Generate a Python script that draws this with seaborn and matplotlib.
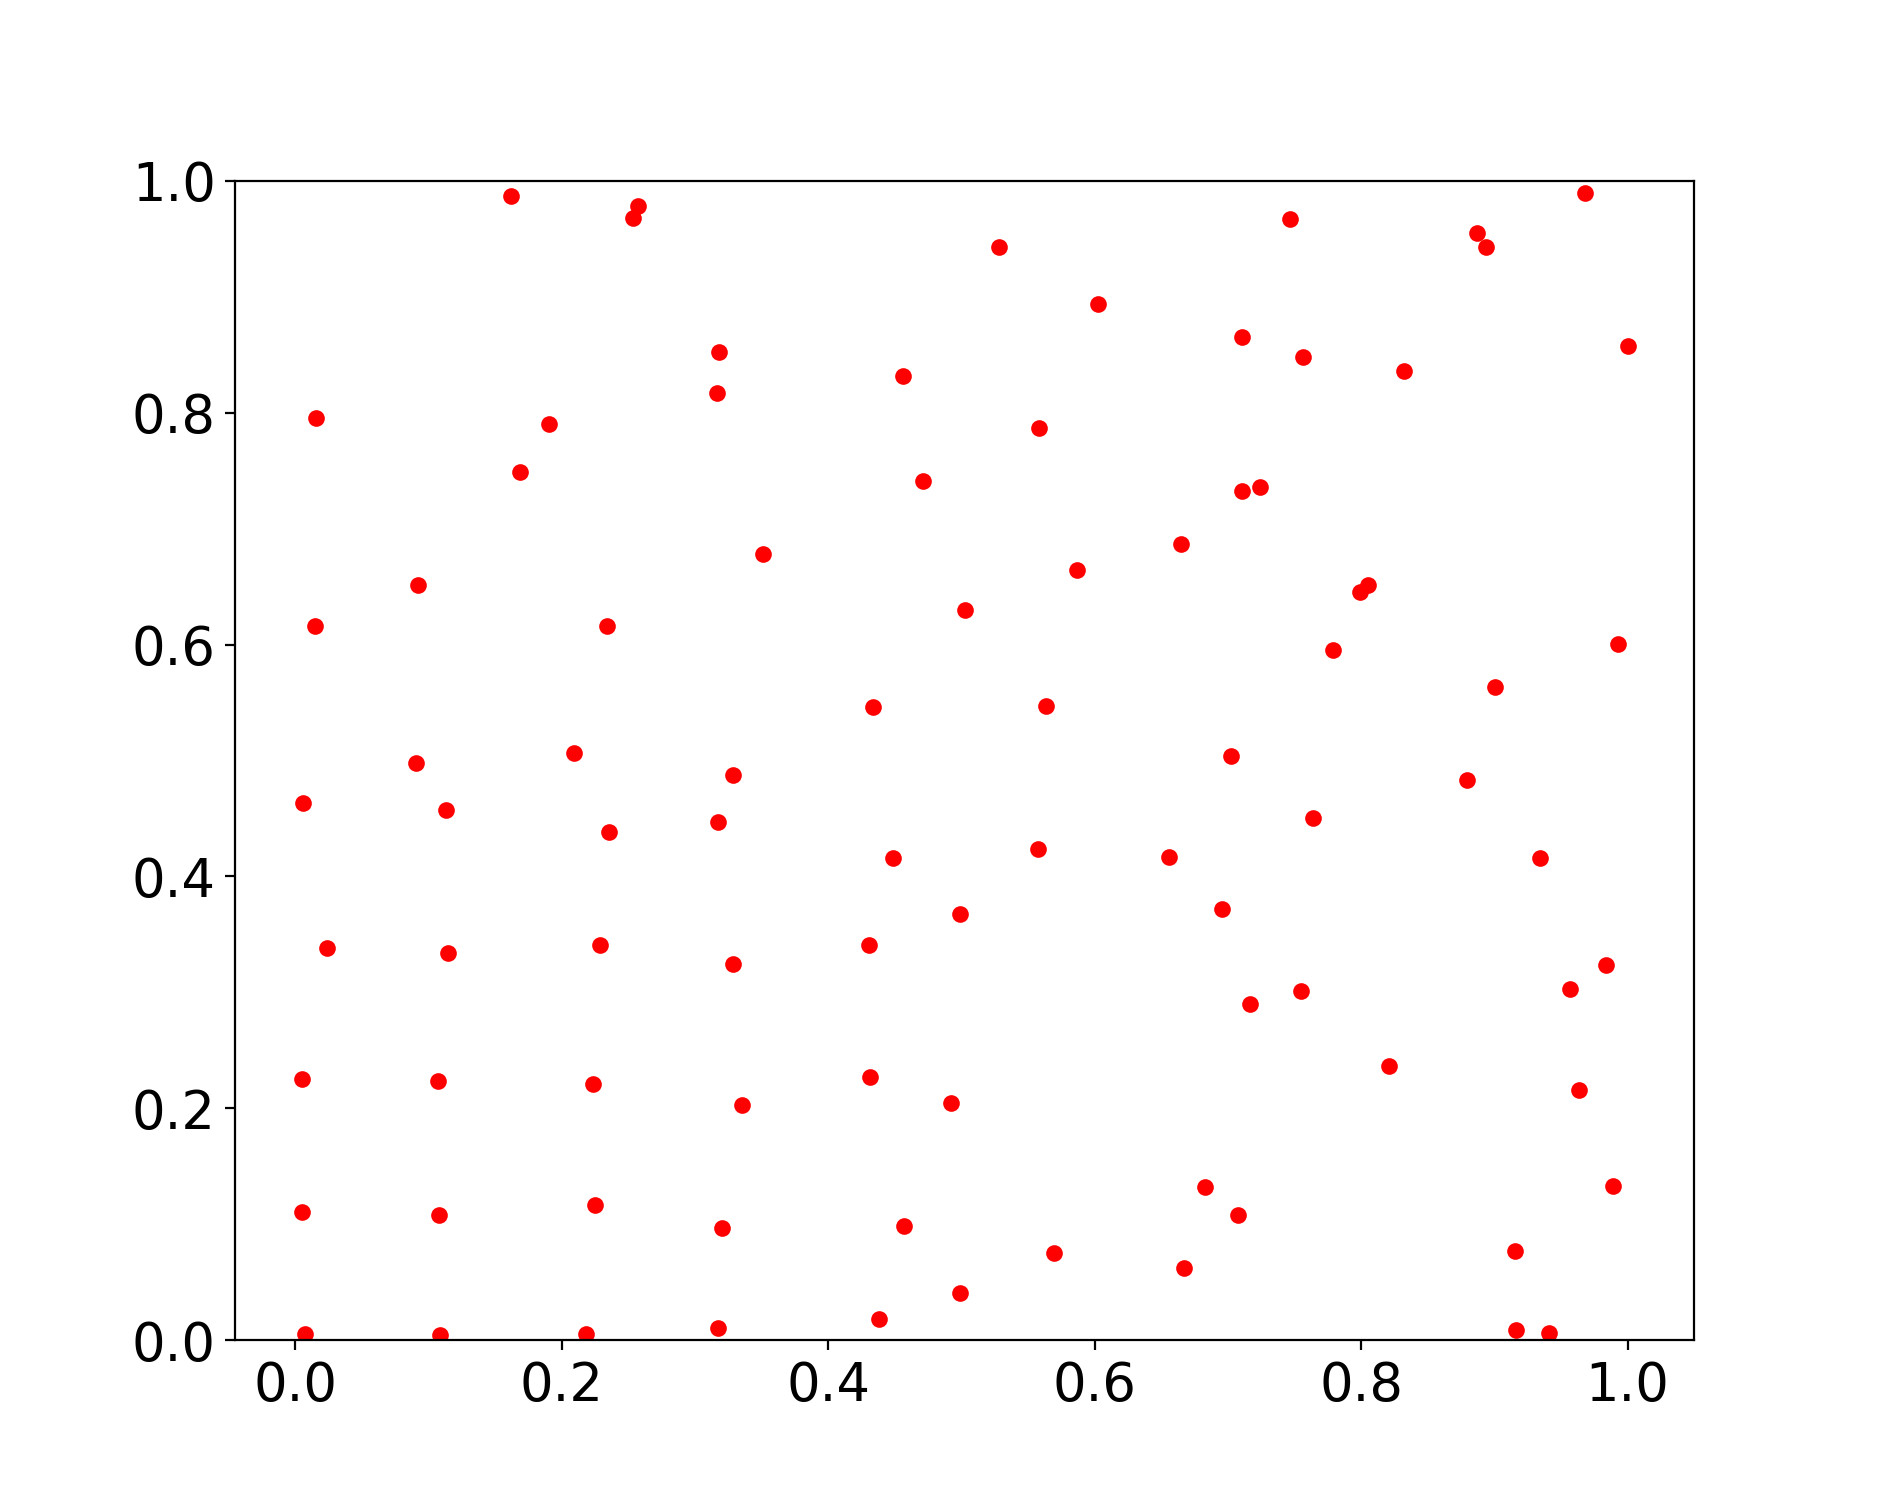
import matplotlib
matplotlib.use("Agg")
import matplotlib.pyplot as plt
import seaborn as sns
import numpy as np

# point coordinates
x_top = [0.1618, 0.2569, 0.2532, 0.3183, 0.3165, 0.0153, 0.1901, 0.1684,
         0.5281, 0.6025, 0.4563, 0.5579, 0.4711, 0.3512, 0.6649,
         0.7469, 0.9679, 0.8870, 0.8938, 0.7104, 0.7560, 0.8323, 0.9999, 0.7107, 0.7237]
y_top = [0.9866, 0.9779, 0.9676, 0.8520, 0.8172, 0.7953, 0.7905, 0.7485,
         0.9426, 0.8937, 0.8316, 0.7865, 0.7410, 0.6780, 0.6864,
         0.9670, 0.9891, 0.9552, 0.9431, 0.8652, 0.8480, 0.8359, 0.8575, 0.7327, 0.7359]

x_mid = [0.0918, 0.0145, 0.2337, 0.0908, 0.2089, 0.0058, 0.1131, 0.2354, 0.3170, 0.0235, 0.1144, 0.2284,
         0.5869, 0.5023, 0.4336, 0.5633, 0.3282, 0.4485, 0.5571, 0.6559, 0.4991, 0.4303,
         0.8052, 0.7995, 0.7788, 0.9929, 0.9001, 0.7024, 0.8798, 0.7642, 0.9343, 0.6957]
y_mid = [0.6511, 0.6160, 0.6160, 0.4981, 0.5065, 0.4634, 0.4570, 0.4386, 0.4467, 0.3380, 0.3337, 0.3412,
         0.6640, 0.6298, 0.5459, 0.5467, 0.4875, 0.4157, 0.4239, 0.4165, 0.3676, 0.3406,
         0.6516, 0.6456, 0.5953, 0.6002, 0.5634, 0.5042, 0.4829, 0.4502, 0.4159, 0.3722]

x_bot = [0.3282, 0.0047, 0.1073, 0.2234, 0.0052, 0.1078, 0.2251, 0.3204, 0.0075, 0.1086, 0.2182, 0.3170,
         0.3350, 0.4313, 0.4921, 0.6831, 0.4571, 0.5696, 0.6671, 0.4986, 0.4378,
         0.7167, 0.7550, 0.8208, 0.9566, 0.9841, 0.9636, 0.7072, 0.9893, 0.9154, 0.9163, 0.9409]
y_bot = [0.3242, 0.2251, 0.2234, 0.2213, 0.1104, 0.1081, 0.1167, 0.0966, 0.0052, 0.0043, 0.0057, 0.0109,
         0.2027, 0.2268, 0.2046, 0.1325, 0.0983, 0.0755, 0.0623, 0.0405, 0.0181,
         0.2903, 0.3010, 0.2368, 0.3027, 0.3234, 0.2159, 0.1081, 0.1333, 0.0773, 0.0089, 0.0060]

xs = np.array(x_top + x_mid + x_bot)
ys = np.array(y_top + y_mid + y_bot)

fig, ax = plt.subplots(figsize=(9.41, 7.53), dpi=200)
sns.scatterplot(x=xs, y=ys, color="red", s=36, linewidth=0, ax=ax)
ax.set_ylim(0, 1)
ax.tick_params(labelsize=19)

fig.savefig("out.png", dpi=200)
